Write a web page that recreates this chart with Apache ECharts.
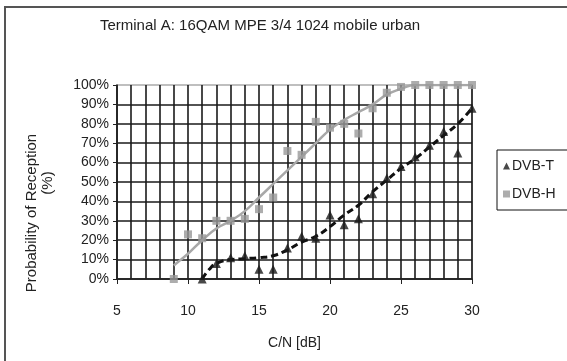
<!DOCTYPE html>
<html><head><meta charset="utf-8">
<script src="https://cdn.jsdelivr.net/npm/echarts@6/dist/echarts.min.js"></script>
<style>html,body{margin:0;padding:0;background:#fff}#c{width:567px;height:361px}</style>
</head><body><div id="c"></div>
<script>
const titleText = 'Terminal A: 16QAM MPE 3/4 1024 mobile urban';
const xAxisTitle = 'C/N [dB]';
const yAxisTitle1 = 'Probability of Reception';
const yAxisTitle2 = '(%)';
const seriesNames = ['DVB-T', 'DVB-H'];

// measured points [C/N dB, probability %]
const dvbTx = [11, 12, 13, 14, 15, 16, 17, 18, 19, 20, 21, 22, 23, 24, 25, 26, 27, 28, 29, 30];
const dvbTy = [0, 8, 11, 12, 5, 5, 16, 22, 21, 33, 28, 31, 44, 52, 58, 63, 69, 76, 65, 88];
const dvbHx = [9, 10, 11, 12, 13, 14, 15, 16, 17, 18, 19, 20, 21, 22, 23, 24, 25, 26, 27, 28, 29, 30];
const dvbHy = [0, 23, 21, 30, 30, 31, 36, 42, 66, 64, 81, 78, 80, 75, 88, 96, 99, 100, 100, 100, 100, 100];

// trend curves
const trendTx = [11, 11.5, 12, 13, 14, 15, 16, 17, 18, 19, 20, 21, 22, 23, 24, 25, 26, 27, 28, 29, 30];
const trendTy = [0, 5, 8, 10, 10.5, 11, 12, 15, 19, 22, 27, 33, 38, 45, 51, 57, 62, 68, 74, 80, 88];
const trendHx = [9, 9.5, 10, 11, 12, 13, 14, 15, 16, 17, 18, 19, 20, 21, 22, 23, 24, 25, 26, 27, 28, 29, 30];
const trendHy = [7, 10, 13, 20, 26, 30, 35, 42, 49, 56, 63, 70, 77, 82, 86, 90, 95, 98, 100, 100, 100, 100, 100];

const zip = (a, b) => a.map((v, i) => [v, b[i]]);
const FONT = 'Liberation Sans';

const chart = echarts.init(document.getElementById('c'), null, {renderer: 'canvas'});
chart.setOption({
  animation: false,
  backgroundColor: '#fff',
  textStyle: {fontFamily: FONT},
  title: {
    text: titleText, left: 255, top: 13, textAlign: 'center',
    textStyle: {fontFamily: FONT, fontSize: 15, fontWeight: 'normal', color: '#222'}
  },
  grid: {left: 117, right: 95, top: 85, bottom: 82, show: true, borderColor: '#aaa', borderWidth: 1.5, backgroundColor: 'transparent'},
  legend: {
    data: [
      {name: seriesNames[0], icon: 'triangle'},
      {name: seriesNames[1], icon: 'rect'}
    ],
    orient: 'vertical', left: 497, top: 150,
    itemWidth: 7, itemHeight: 7, itemGap: 14,
    padding: [9, 20, 9, 6],
    borderColor: '#111', borderWidth: 1,
    textStyle: {fontFamily: FONT, fontSize: 14, color: '#222', padding: [0, 0, 0, -3]}
  },
  xAxis: {
    type: 'value', min: 5, max: 30, interval: 5,
    name: xAxisTitle, nameLocation: 'middle', nameGap: 57,
    nameTextStyle: {fontFamily: FONT, fontSize: 14, color: '#222'},
    axisLine: {show: true, lineStyle: {color: '#222', width: 1.5}},
    axisTick: {show: true, inside: false, length: 5, lineStyle: {color: '#222'}},
    axisLabel: {fontFamily: FONT, fontSize: 14, color: '#222', margin: 25},
    splitLine: {show: true, lineStyle: {color: '#1a1a1a', width: 1.6}},
    minorTick: {show: false, splitNumber: 5},
    minorSplitLine: {show: true, lineStyle: {color: '#1a1a1a', width: 1.6}}
  },
  yAxis: {
    type: 'value', min: 0, max: 100, interval: 10,
    axisLine: {show: true, lineStyle: {color: '#222', width: 1.5}},
    axisTick: {show: true, inside: false, length: 4, lineStyle: {color: '#222'}},
    axisLabel: {fontFamily: FONT, fontSize: 14, color: '#222', margin: 8, formatter: '{value}%'},
    splitLine: {show: true, showMaxLine: false, lineStyle: {color: '#1a1a1a', width: 1.6}}
  },
  series: [
    {
      name: 'DVB-T trend', type: 'line', smooth: true, showSymbol: false, silent: true,
      data: zip(trendTx, trendTy), z: 3,
      lineStyle: {color: '#111', width: 3, type: [7, 4]}
    },
    {
      name: 'DVB-H trend', type: 'line', smooth: true, showSymbol: false, silent: true,
      data: zip(trendHx, trendHy), z: 3,
      lineStyle: {color: '#a8a8a8', width: 2.5}
    },
    {
      name: seriesNames[0], type: 'scatter', symbol: 'triangle', symbolSize: 9,
      data: zip(dvbTx, dvbTy), z: 4,
      itemStyle: {color: '#1a1a1a'}
    },
    {
      name: seriesNames[1], type: 'scatter', symbol: 'rect', symbolSize: 8,
      data: zip(dvbHx, dvbHy), z: 4,
      itemStyle: {color: '#999'}
    }
  ],
  graphic: [
    {type: 'rect', shape: {x: 5, y: 7, width: 620, height: 420}, style: {fill: 'none', stroke: '#555', lineWidth: 2}, silent: true, z: 100},
    {type: 'text', x: 32, y: 213, rotation: Math.PI / 2, style: {text: yAxisTitle1, font: '15px "Liberation Sans"', fill: '#222', align: 'center', verticalAlign: 'middle'}},
    {type: 'text', x: 48, y: 183, rotation: Math.PI / 2, style: {text: yAxisTitle2, font: '15px "Liberation Sans"', fill: '#222', align: 'center', verticalAlign: 'middle'}}
  ]
});
</script></body></html>
